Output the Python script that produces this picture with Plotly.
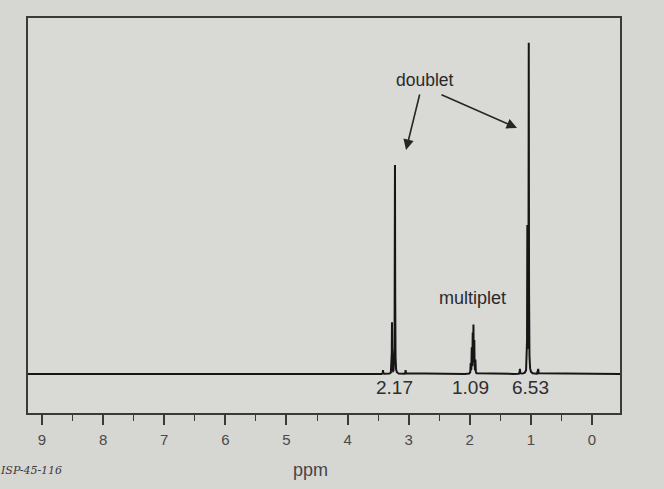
import numpy as np
import plotly.graph_objects as go

# ---- data ----
peak_ppm = [3.273, 3.224, 1.985, 1.968, 1.952, 1.940, 1.926, 1.908, 1.058, 1.035]
peak_height = [15.5, 63.5, 3.0, 7.5, 11.5, 14.0, 9.5, 4.0, 43.8, 100.0]
satellite_ppm = [3.42, 3.05, 1.18, 0.88]
satellite_height = [1.2, 1.2, 1.5, 1.5]
integral_ppm = [3.224, 1.996, 1.014]
integral_labels = ["2.17", "1.09", "6.53"]
tick_vals = [0, 1, 2, 3, 4, 5, 6, 7, 8, 9]
tick_text = ["0", "1", "2", "3", "4", "5", "6", "7", "8", "9"]

x_range = [9.229, -0.458]
y_range = [-11.85, 108.2]

# ---- line shape (rendering of the peak list) ----
width_ppm = 0.0028
grid = np.concatenate([np.arange(x_range[1], x_range[0], 0.0005), peak_ppm, satellite_ppm])
grid = np.unique(grid)
intens = np.zeros_like(grid)
for p, h in zip(peak_ppm + satellite_ppm, peak_height + satellite_height):
    intens += h * width_ppm**2 / ((grid - p) ** 2 + width_ppm**2)

fig = go.Figure()
fig.add_trace(go.Scatter(x=grid, y=intens, mode="lines",
                         line=dict(color="#161616", width=2.0),
                         hoverinfo="skip", showlegend=False))

L, R, T, B = 28, 44, 18, 76
W, H = 664, 489
pw, ph = W - L - R, H - T - B

def px(xp):
    return (xp - L) / pw

def py(yp):
    return (H - B - yp) / ph

annots = []
for xv, lab in zip(integral_ppm, integral_labels):
    annots.append(dict(x=xv, y=-4.0, xref="x", yref="y", text=lab, showarrow=False,
                       font=dict(family="Liberation Sans, Arial", size=19, color="#2e2e2e"),
                       xanchor="center", yanchor="middle"))

annots.append(dict(x=2.733, y=89.4, xref="x", yref="y", text="doublet", showarrow=False,
                   font=dict(family="Liberation Sans, Arial", size=17.5, color="#2a2a2a"),
                   xanchor="center", yanchor="middle"))
annots.append(dict(x=1.963, y=23.1, xref="x", yref="y", text="multiplet", showarrow=False,
                   font=dict(family="Liberation Sans, Arial", size=18, color="#2a2a2a"),
                   xanchor="center", yanchor="middle"))
# arrows from "doublet" to the two doublets
annots.append(dict(x=3.043, y=68.1, ax=2.814, ay=85.4, xref="x", yref="y", axref="x", ayref="y",
                   text="", showarrow=True, arrowhead=2, arrowsize=1.3, arrowwidth=1.6,
                   arrowcolor="#262626"))
annots.append(dict(x=1.227, y=74.8, ax=2.487, ay=85.1, xref="x", yref="y", axref="x", ayref="y",
                   text="", showarrow=True, arrowhead=2, arrowsize=1.3, arrowwidth=1.6,
                   arrowcolor="#262626"))
annots.append(dict(x=px(310), y=py(470), xref="paper", yref="paper", text="ppm", showarrow=False,
                   font=dict(family="Liberation Sans, Arial", size=18, color="#454545"),
                   xanchor="center", yanchor="middle"))
annots.append(dict(x=px(-2), y=py(471), xref="paper", yref="paper", text="<i>ISP-45-116</i>",
                   showarrow=False,
                   font=dict(family="DejaVu Serif", size=11, color="#3a3a3a"),
                   xanchor="left", yanchor="middle"))

fig.update_layout(
    width=W, height=H,
    margin=dict(l=L, r=R, t=T, b=B, pad=0),
    paper_bgcolor="#d6d6d3",
    plot_bgcolor="#d9d9d6",
    annotations=annots,
    showlegend=False,
    xaxis=dict(range=x_range, tickmode="array", tickvals=tick_vals, ticktext=tick_text,
               showgrid=False, zeroline=False, showline=True, mirror=True,
               linecolor="#3a3a3a", linewidth=1.6,
               ticks="outside", ticklen=10, tickwidth=1.5, tickcolor="#3a3a3a",
               tickfont=dict(family="Liberation Sans, Arial", size=15, color="#4a4a4a"),
               ticklabelstandoff=2,
               minor=dict(dtick=0.5, tick0=0, ticks="outside", ticklen=6, tickwidth=1.3,
                          tickcolor="#3a3a3a", showgrid=False)),
    yaxis=dict(range=y_range, showgrid=False, zeroline=False, showline=True, mirror=True,
               linecolor="#3a3a3a", linewidth=1.6, showticklabels=False, ticks=""),
)

fig.write_html(
    "out.html",
    config={"displayModeBar": False},
    post_script="document.body.style.margin='0';document.body.style.background='#d6d6d3';",
)
